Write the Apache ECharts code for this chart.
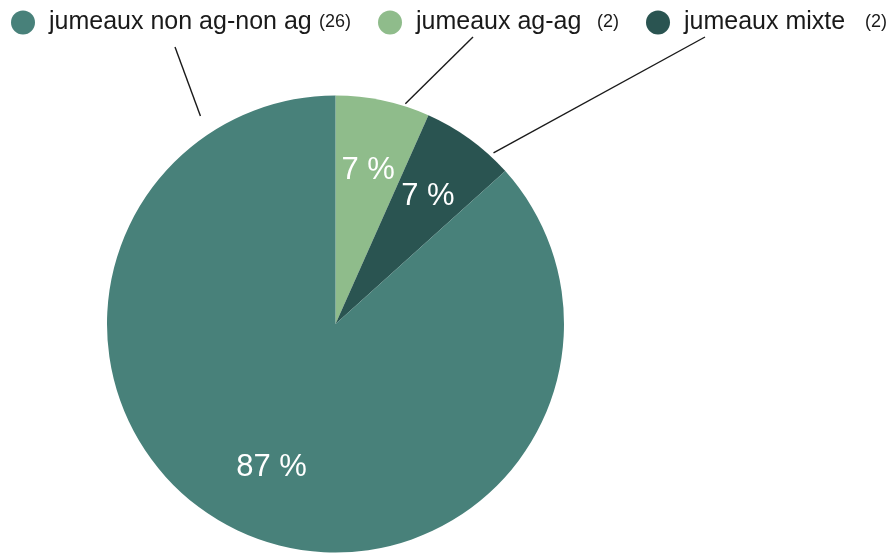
<!DOCTYPE html>
<html>
<head>
<meta charset="utf-8">
<script src="https://cdn.jsdelivr.net/npm/echarts@6/dist/echarts.min.js"></script>
<style>
html,body{margin:0;padding:0;background:#fff;}
#chart{width:895px;height:553px;}
</style>
</head>
<body>
<div id="chart"></div>
<script>
// Data (pie order clockwise from 12 o'clock)
const categories = ['jumeaux ag-ag', 'jumeaux mixte', 'jumeaux non ag-non ag'];
const counts = [2, 2, 26];
const colors = ['#8FBC8B', '#2A5451', '#48817A'];
// Legend order as shown
const legendOrder = ['jumeaux non ag-non ag', 'jumeaux ag-ag', 'jumeaux mixte'];
// Leader lines: legend-side anchor and slice-side point (angle clockwise from top, distance from centre)
const leaderFrom = [[175, 47], [473, 37], [705, 37]];
const leaderAngle = [327, 17.6, 42.7];
const leaderDist = [248, 231, 233];

const CX = 335.5, CY = 324, R = 228.5;
const total = counts.reduce((a, b) => a + b, 0);
const pieData = categories.map((c, i) => ({ name: c, value: counts[i], itemStyle: { color: colors[i] } }));

const chart = echarts.init(document.getElementById('chart'));

const graphics = leaderFrom.map((p, i) => {
  const a = leaderAngle[i] * Math.PI / 180;
  return {
    type: 'line', silent: true, z: 10,
    shape: { x1: p[0], y1: p[1], x2: CX + leaderDist[i] * Math.sin(a), y2: CY - leaderDist[i] * Math.cos(a) },
    style: { stroke: '#1a1a1a', lineWidth: 1.4 }
  };
});

chart.setOption({
  animation: false,
  backgroundColor: '#ffffff',
  textStyle: { fontFamily: 'Liberation Sans, Arial, sans-serif' },
  legend: {
    data: legendOrder,
    left: 11, top: 10,
    padding: 0,
    orient: 'horizontal',
    icon: 'circle',
    itemWidth: 24, itemHeight: 24,
    itemGap: 27,
    selectedMode: false,
    textStyle: {
      padding: [0, 0, 0, 9],
      color: '#1a1a1a',
      rich: {
        n1: { fontSize: 25, width: 270, color: '#1a1a1a', fontFamily: 'Liberation Sans' },
        n2: { fontSize: 25, width: 181, color: '#1a1a1a', fontFamily: 'Liberation Sans' },
        c1: { fontSize: 18, width: 34, color: '#1a1a1a', fontFamily: 'Liberation Sans' },
        c2: { fontSize: 18, width: 30, color: '#1a1a1a', fontFamily: 'Liberation Sans' }
      }
    },
    formatter: function (name) {
      const v = counts[categories.indexOf(name)];
      const wide = name.length > 15;
      return wide ? '{n1|' + name + '}{c1|(' + v + ')}' : '{n2|' + name + '}{c2|(' + v + ')}';
    }
  },
  graphic: graphics,
  series: [
    {
      type: 'pie',
      center: [CX, CY],
      radius: [0, R],
      startAngle: 90,
      clockwise: true,
      avoidLabelOverlap: false,
      label: { show: false },
      labelLine: { show: false },
      emphasis: { disabled: true },
      data: pieData
    },
    {
      type: 'pie',
      center: [CX, CY],
      radius: [80, R],
      startAngle: 90,
      clockwise: true,
      silent: true,
      avoidLabelOverlap: false,
      itemStyle: { color: 'rgba(0,0,0,0)' },
      emphasis: { disabled: true },
      label: {
        show: true,
        position: 'inside',
        color: '#ffffff',
        fontSize: 31,
        fontFamily: 'Liberation Sans',
        formatter: function (p) { return Math.round(p.value / total * 100) + ' %'; }
      },
      labelLine: { show: false },
      data: categories.map((c, i) => ({ name: c, value: counts[i], itemStyle: { color: 'rgba(0,0,0,0)' } }))
    }
  ]
});
</script>
</body>
</html>
